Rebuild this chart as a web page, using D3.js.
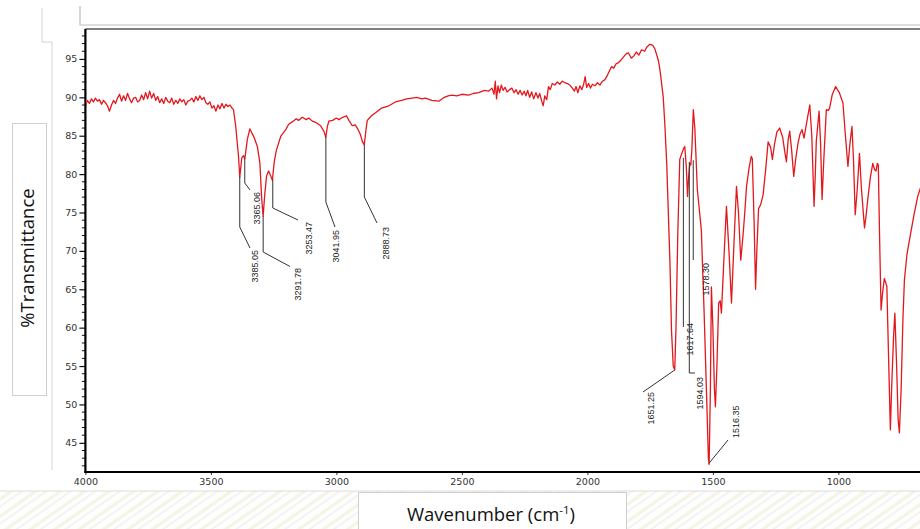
<!DOCTYPE html>
<html><head><meta charset="utf-8">
<script src="https://cdn.jsdelivr.net/npm/d3@7"></script>
<style>
html,body{margin:0;padding:0;background:#fff;}
svg{display:block;}
</style></head>
<body>
<svg id="chart" width="920" height="529"></svg>
<script>
// ---------- DATA ----------
const wavenumber = [
4000,3992,3984,3976,3968,3960,3952,3944,3936,3928,3920,3912,3904,3896,3888,3880,3872,3864,3856,3848,
3840,3832,3824,3816,3808,3800,3792,3784,3776,3768,3760,3752,3744,3736,3728,3720,3712,3704,3696,3688,
3680,3672,3664,3656,3648,3640,3632,3624,3616,3608,3600,3592,3584,3576,3568,3560,3552,3544,3536,3528,
3520,3512,3504,3496,3488,3480,3472,3464,3456,3448,3440,3432,3424,3416,
3410,3401,3390,3385,3377,3370,3365,3360,3355,3345,3336,3328,3315,3305,3298,3292,3285,3278,3270,3262,
3255,3248,3240,3222,3202,3190,3176,3160,3150,3136,3120,3110,3096,3080,3063,3050,3042,3036,3030,3015,
3000,2990,2975,2960,2950,2937,2925,2915,2905,2896,2889,2882,2877,2860,2844,2820,2791,2765,2740,2720,
2699,2680,2660,2645,2620,2592,2570,2555,2540,2520,2500,2473,2455,2433,2410,2394,2380,2372,2367,2362,
2356,2350,2343,2336,2328,2320,2310,2301,2292,2284,2276,2268,2260,2252,2245,2238,2230,2222,2214,2205,
2197,2190,2182,2176,2170,2162,2155,2148,2140,2130,2120,2110,2100,2090,2080,2070,2060,2052,2045,2038,
2030,2022,2015,2009,2003,1995,1988,1980,1970,1960,1950,1940,1930,1920,1910,1904,1895,1885,1877,1865,
1855,1845,1837,1825,1815,1805,1795,1784,1772,1762,1751,1740,1731,1718,1711,1698,1691,1684,1671,1665,
1658,1652,1647,1640,1632,1625,1617,1612,1606,1601,1597,1592,1588,1584,1578,1572,1562,1546,1535,1525,
1518,1515,1510,1506,1500,1494,1490,1484,1477,1471,1466,1456,1446,1436,1426,1416,1406,1398,1389,1380,
1373,1366,1356,1347,1343,1336,1330,1325,1318,1310,1300,1290,1280,1270,1263,1255,1245,1234,1222,1214,
1207,1200,1194,1186,1178,1170,1161,1153,1145,1137,1125,1114,1106,1097,1092,1088,1077,1071,1065,1058,
1048,1040,1035,1025,1011,1004,996,990,982,972,962,954,946,940,933,925,916,908,896,890,
883,873,863,856,850,845,841,836,830,824,817,811,807,800,793,787,780,775,768,762,
757,750,743,737,727,717,700,684,670,660
];
const transmittance = [
88.8,89.6,89.2,89.8,89.4,89.9,89.5,89.7,89.1,89.6,89.3,88.9,88.2,89.0,89.6,89.2,89.9,90.4,89.5,90.2,
89.6,90.5,89.8,89.3,89.9,90.0,89.4,89.6,90.3,89.7,90.6,89.8,90.8,89.9,90.5,89.6,90.1,89.3,89.8,89.2,
90.0,89.5,89.3,89.9,89.1,89.6,89.2,89.8,89.4,89.7,89.0,89.5,89.6,89.9,89.4,90.1,89.6,90.2,89.7,90.0,
89.3,89.1,89.4,88.6,88.9,88.2,89.0,88.5,89.2,88.6,89.1,88.8,89.0,88.6,
88.4,86.2,82.3,79.6,82.1,82.4,82.0,83.2,84.5,85.9,85.3,84.8,83.6,81.5,77.0,74.5,77.5,79.8,80.4,79.8,
79.2,81.5,83.0,84.9,85.8,86.5,86.8,87.2,87.0,87.4,87.1,87.3,86.9,86.7,86.3,85.6,84.8,86.2,86.9,87.0,
87.3,87.1,87.4,87.6,87.0,86.3,86.4,85.9,85.2,84.2,83.8,85.8,87.0,87.6,88.0,88.6,88.9,89.4,89.6,89.8,
89.9,90.0,89.8,89.9,89.6,89.5,90.0,90.2,90.3,90.2,90.4,90.3,90.5,90.6,90.9,90.8,91.2,90.4,92.1,89.8,
91.5,90.6,91.6,90.9,91.3,90.7,91.0,91.2,90.6,91.0,90.4,90.9,90.3,90.8,90.2,90.9,90.0,90.7,89.8,90.6,
89.9,90.5,89.5,88.9,90.2,89.7,91.4,91.0,91.8,91.6,92.0,91.7,92.1,91.9,91.8,91.6,91.2,90.8,91.4,90.6,
91.5,91.0,91.7,92.7,91.3,91.8,91.2,91.7,91.5,91.9,91.6,92.1,92.3,92.9,93.6,94.0,93.8,94.4,94.5,94.9,
95.3,95.7,95.8,95.1,95.4,95.9,95.5,96.2,96.0,96.6,96.9,96.8,96.3,94.9,93.6,90.1,86.2,81.4,68.4,59.7,
55.0,54.5,60.0,72.0,81.9,82.6,83.3,83.6,81.0,77.1,79.5,81.4,81.2,83.0,88.4,86.0,78.0,72.7,62.0,51.0,
43.0,42.2,52.0,65.3,60.0,52.0,49.7,55.0,63.2,63.5,61.9,69.0,75.8,70.0,63.2,71.0,78.4,75.0,68.8,72.0,
75.0,78.4,80.8,82.3,82.0,74.0,65.0,70.0,75.5,76.0,77.3,80.5,84.2,83.5,81.9,83.8,85.5,86.0,84.8,83.0,
81.6,84.5,85.6,83.0,79.7,82.0,84.0,85.2,85.8,84.7,87.0,89.0,85.0,75.8,80.0,84.3,88.2,84.0,76.7,82.0,
88.4,88.3,88.6,90.3,91.4,91.0,90.6,90.0,89.3,85.0,81.0,84.0,86.2,82.0,74.7,78.0,82.7,78.0,73.0,74.5,
76.7,79.5,81.4,80.6,80.4,81.4,81.2,72.0,62.3,64.5,66.4,65.8,65.4,56.0,46.7,53.0,59.0,61.9,55.0,48.0,
46.3,52.0,61.0,66.2,69.5,71.4,74.5,77.1,78.5,79.3
];
const xTicks = [4000,3500,3000,2500,2000,1500,1000];
const yTicks = [45,50,55,60,65,70,75,80,85,90,95];
const peakLabels = ["3385.05","3365.06","3291.78","3253.47","3041.95","2888.73","1651.25","1617.64","1594.03","1578.30","1516.35"];
const peakWavenumbers = [3385.05,3365.06,3291.78,3253.47,3041.95,2888.73,1651.25,1617.64,1594.03,1578.30,1516.35];
const peakTransmittance = [79.7,82.1,74.5,79.3,84.9,83.8,54.5,82.1,81.6,81.8,42.3];
const xTitle = "Wavenumber (cm";
const yTitle = "%Transmittance";

// ---------- LAYOUT (pixels, separate from data) ----------
const leaderLayout = [
  {pts:[[null,227],[250,248]], tx:255, ty:250, anchor:"end"},
  {pts:[[null,183],[250,190]], tx:256.5, ty:192, anchor:"end"},
  {pts:[[null,252],[290,266.5]], tx:298, ty:268, anchor:"end"},
  {pts:[[null,208],[298,220]], tx:309, ty:222, anchor:"end"},
  {pts:[[null,202],[335,227]], tx:336, ty:230, anchor:"end"},
  {pts:[[null,197],[377,223]], tx:386, ty:227, anchor:"end"},
  {pts:[[643,392]], tx:651, ty:392, anchor:"end"},
  {pts:[[null,327]], tx:690, ty:323, anchor:"end"},
  {pts:[[null,373],[695,373]], tx:700, ty:377, anchor:"end"},
  {pts:[[null,260]], tx:706, ty:263, anchor:"end"},
  {pts:[[728,440]], tx:736, ty:438, anchor:"start"}
];

const W = 920, H = 529;
const svg = d3.select("#chart");
const plotL = 85.4, plotT = 29, plotB = 472, plotR = 920;

const x = d3.scaleLinear().domain([4000, 650]).range([plotL, plotL + 3350*0.251]);
const y = d3.scaleLinear().domain([41.2, 98.9]).range([plotB, plotT]);

// ---------- background decorations ----------
const defs = svg.append("defs");
const pat = defs.append("pattern").attr("id","stripes").attr("patternUnits","userSpaceOnUse")
  .attr("width",14).attr("height",14).attr("patternTransform","rotate(-35)");
pat.append("rect").attr("width",14).attr("height",14).attr("fill","#fefefc");
pat.append("line").attr("x1",0).attr("y1",3).attr("x2",14).attr("y2",3).attr("stroke","#f5f3e6").attr("stroke-width",3);
pat.append("line").attr("x1",0).attr("y1",9).attr("x2",14).attr("y2",9).attr("stroke","#f0f0f0").attr("stroke-width",1.5);

svg.append("rect").attr("x",0).attr("y",491).attr("width",W).attr("height",H-491).attr("fill","url(#stripes)");
svg.append("line").attr("x1",0).attr("x2",W).attr("y1",491).attr("y2",491).attr("stroke","#dcdcdc");

// top boxes
svg.append("path").attr("d","M42,8 V42 H52 V470").attr("fill","none").attr("stroke","#d4d4d4");
svg.append("path").attr("d","M80,6 V25 H920").attr("fill","none").attr("stroke","#bdbdbd").attr("stroke-width",1.2);

// y title box
svg.append("rect").attr("x",12.5).attr("y",123.5).attr("width",34).attr("height",272)
  .attr("fill","#fff").attr("stroke","#cfcfcf");
svg.append("text").attr("transform","translate(34,258) rotate(-90)")
  .attr("text-anchor","middle").attr("font-family","Open Sans, sans-serif").attr("font-size",18.5)
  .attr("fill","#111").text(yTitle);

// x title box
svg.append("rect").attr("x",358.5).attr("y",492.5).attr("width",268).attr("height",40)
  .attr("fill","#fff").attr("stroke","#cfcfcf");
const xt = svg.append("text").attr("x",491).attr("y",521).attr("text-anchor","middle")
  .attr("font-family","Open Sans, sans-serif").attr("font-size",18.5).attr("fill","#111");
xt.append("tspan").text(xTitle);
xt.append("tspan").attr("font-size",11.5).attr("dy",-7.5).text("-1");
xt.append("tspan").attr("dy",7.5).text(")");

// plot top frame
svg.append("line").attr("x1",plotL).attr("x2",W).attr("y1",plotT).attr("y2",plotT)
  .attr("stroke","#555").attr("stroke-width",1.5);

// ---------- axes ----------
const axisFont = "DejaVu Sans, sans-serif";
const yMinor = d3.range(42, 99, 1).filter(v => v % 5 !== 0);
const gy = svg.append("g").attr("transform",`translate(${plotL},0)`);
gy.selectAll("line.minor").data(yMinor).join("line").attr("class","minor")
  .attr("x1",-3.5).attr("x2",0).attr("y1",d=>y(d)).attr("y2",d=>y(d)).attr("stroke","#111").attr("stroke-width",1);
gy.call(d3.axisLeft(y).tickValues(yTicks).tickSize(6).tickPadding(2).tickFormat(d3.format("d")));
gy.select(".domain").remove();
gy.selectAll(".tick line").attr("stroke","#111").attr("stroke-width",1.2);
gy.selectAll(".tick text").attr("font-family",axisFont).attr("font-size",9.5).attr("fill","#333");
svg.append("line").attr("x1",plotL).attr("x2",plotL).attr("y1",plotT).attr("y2",plotB+1)
  .attr("stroke","#000").attr("stroke-width",2.2);

const gx = svg.append("g").attr("transform",`translate(0,${plotB})`);
gx.call(d3.axisBottom(x).tickValues(xTicks).tickSize(3).tickPadding(3).tickFormat(d3.format("d")));
gx.select(".domain").remove();
gx.selectAll(".tick line").attr("stroke","#333");
gx.selectAll(".tick text").attr("font-family",axisFont).attr("font-size",9.5).attr("fill","#333");
svg.append("line").attr("x1",plotL-1).attr("x2",W).attr("y1",plotB).attr("y2",plotB)
  .attr("stroke","#000").attr("stroke-width",2.2);

// ---------- spectrum ----------
defs.append("clipPath").attr("id","clip").append("rect")
  .attr("x",plotL+1).attr("y",plotT+1).attr("width",W-plotL).attr("height",plotB-plotT-2);
const data = wavenumber.map((w,i)=>[w, transmittance[i]]);
svg.append("path").datum(data).attr("clip-path","url(#clip)")
  .attr("fill","none").attr("stroke","#e3171c").attr("stroke-width",1.3).attr("stroke-linejoin","round")
  .attr("d", d3.line().x(d=>x(d[0])).y(d=>y(d[1])));

// ---------- peak annotations ----------
const gp = svg.append("g");
peakLabels.forEach((lab,i)=>{
  const L = leaderLayout[i];
  const px = x(peakWavenumbers[i]), py = y(peakTransmittance[i]);
  const pts = [[px,py]].concat(L.pts.map(p=>[p[0]===null?px:p[0], p[1]]));
  gp.append("path").attr("d", d3.line()(pts)).attr("fill","none").attr("stroke","#333").attr("stroke-width",1);
  gp.append("text").attr("transform",`translate(${L.tx},${L.ty}) rotate(-90)`)
    .attr("text-anchor",L.anchor).attr("dy","0.35em")
    .attr("font-family","Liberation Sans, Arial, sans-serif").attr("font-size",9)
    .attr("fill","#222").text(lab);
});
</script>
</body></html>
